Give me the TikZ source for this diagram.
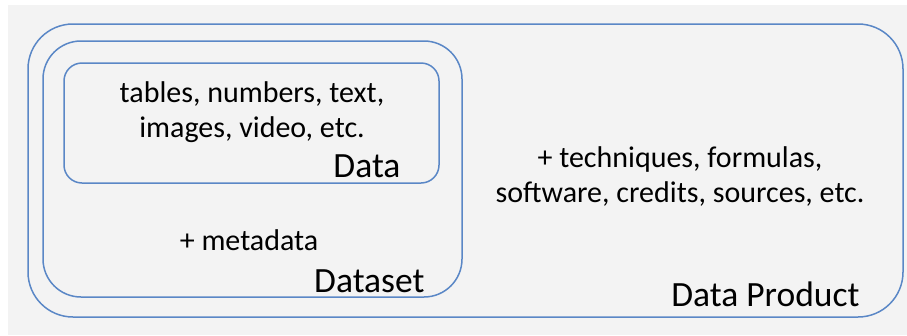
\documentclass[tikz,border=0pt]{standalone}
\usepackage{fontspec}
\setmainfont{Carlito}
\usepackage{tikz}
\usetikzlibrary{positioning}

\definecolor{boxblue}{HTML}{5A87C6}
\definecolor{paper}{HTML}{F3F3F3}

\begin{document}
\begin{tikzpicture}[x=1pt, y=-1pt,
  box/.style = {draw=boxblue, line width=1.5pt, rectangle, inner sep=0pt, outer sep=0pt},
  small/.style = {align=center, anchor=base, font=\fontsize{30}{35}\selectfont},
  big/.style = {anchor=base east, font=\fontsize{35.5}{40}\selectfont}]
  \useasboundingbox (0,0) rectangle (907,335);
  \fill[white] (0,0) rectangle (907,335);
  \fill[paper] (8,5) rectangle (907,335);

  \node [box, rounded corners=45pt, minimum width=875pt, minimum height=293pt] (product) at (465.5,170.5) {};
  \node [box, rounded corners=38pt, minimum width=419pt, minimum height=256pt] (dataset) at (252.5,169) {};
  \node [box, rounded corners=18pt, minimum width=375pt, minimum height=120pt] (data) at (251.5,123) {};

  \node [small] (datatext) at (252,137) {tables, numbers, text,\\images, video, etc.};
  \node [big] (datalabel) at (404,177) {Data};
  \node [small] (metatext) at (249,250) {+ metadata};
  \node [big] (datasetlabel) at (428,292) {Dataset};
  \node [small] (producttext) at (680,202) {+ techniques, formulas,\\software, credits, sources, etc.};
  \node [big] (productlabel) at (863,306) {Data Product};
\end{tikzpicture}
\end{document}
